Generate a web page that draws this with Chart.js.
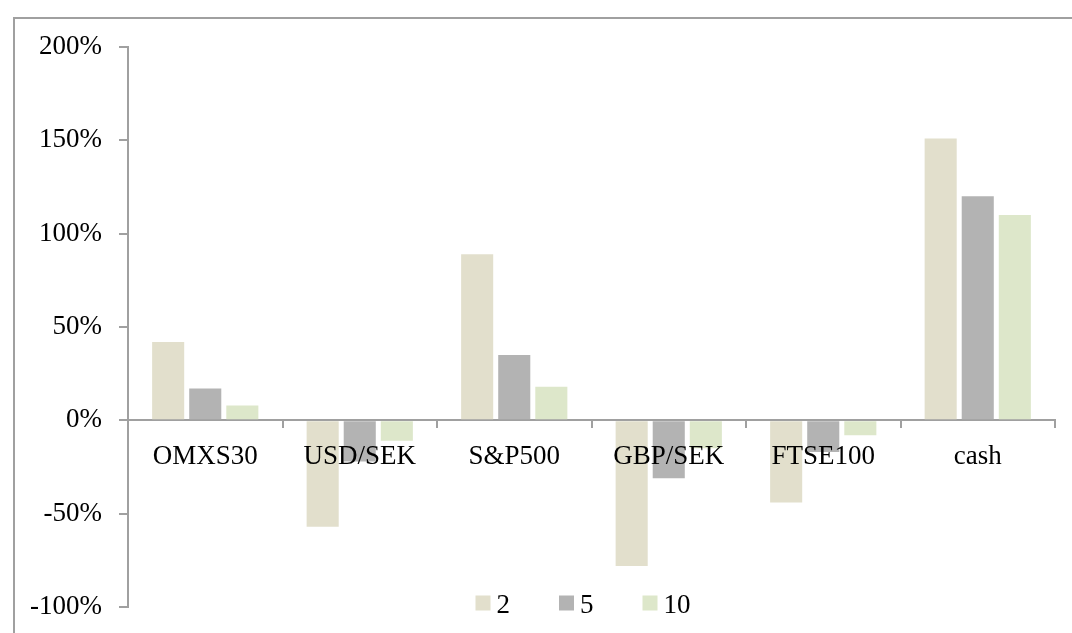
<!DOCTYPE html>
<html>
  <head>
    <title>Bar Chart</title>
    <script src="https://cdn.jsdelivr.net/npm/chart.js@4.4.0/dist/chart.umd.min.js"></script>
    <style>
      body { margin: 0; background: #fff; overflow: hidden; }
      #container { width: 1072px; height: 633px; position: relative; }
    </style>
  </head>
  <body>
    <div id="container"><canvas id="canvas"></canvas></div>
    <script>
      const categories = ['OMXS30', 'USD/SEK', 'S&P500', 'GBP/SEK', 'FTSE100', 'cash'];
      const seriesNames = ['2', '5', '10'];
      const values2 = [42, -57, 89, -78, -44, 151];
      const values5 = [17, -22, 35, -31, -17, 120];
      const values10 = [8, -11, 18, -15, -8, 110];
      const yTicks = [-100, -50, 0, 50, 100, 150, 200];
      const colors = ['#e2dfcc', '#b3b3b3', '#dde7ca'];

      const axisColor = '#a0a0a0';
      Chart.defaults.font.family = '"Liberation Serif", serif';
      Chart.defaults.font.size = 27;
      Chart.defaults.color = '#000';

      // outer frame (only top and left edges show in the picture)
      const framePlugin = {
        id: 'frame',
        beforeDraw(chart) {
          const ctx = chart.ctx;
          ctx.save();
          ctx.strokeStyle = axisColor;
          ctx.lineWidth = 2;
          ctx.beginPath();
          ctx.moveTo(14, chart.height);
          ctx.lineTo(14, 18);
          ctx.lineTo(chart.width, 18);
          ctx.stroke();
          ctx.restore();
        },
      };

      // legend drawn inside the plot, near the bottom
      const legendPlugin = {
        id: 'bottomLegend',
        afterDraw(chart) {
          const ctx = chart.ctx;
          const items = chart.data.datasets;
          const box = 15, gap = 6, pad = 49;
          ctx.save();
          ctx.font = '27px "Liberation Serif", serif';
          const widths = items.map((d) => box + gap + ctx.measureText(d.label).width);
          const total = widths.reduce((a, b) => a + b, 0) + pad * (items.length - 1);
          let x = 583 - total / 2;
          const y = 603;
          items.forEach((d, i) => {
            ctx.fillStyle = d.backgroundColor;
            ctx.fillRect(x, y - 7.5, box, box);
            ctx.fillStyle = '#000';
            ctx.textBaseline = 'alphabetic';
            ctx.fillText(d.label, x + box + gap, 613);
            x += widths[i] + pad;
          });
          ctx.restore();
        },
      };

      const seriesValues = [values2, values5, values10];
      const data = {
        labels: categories,
        datasets: seriesNames.map((name, i) => ({
          label: name,
          data: seriesValues[i],
          backgroundColor: colors[i],
          borderWidth: 0,
          categoryPercentage: 0.72,
          barPercentage: 0.865,
        })),
      };

      window.onload = () => {
        const ctx = document.getElementById('canvas').getContext('2d');
        new Chart(ctx, {
          type: 'bar',
          data: data,
          plugins: [framePlugin, legendPlugin],
          options: {
            responsive: true,
            maintainAspectRatio: false,
            animation: false,
            layout: { padding: { left: 0, right: 17, top: 47, bottom: 26 } },
            plugins: {
              legend: { display: false },
              tooltip: { enabled: false },
            },
            scales: {
              x: {
                position: { y: 0 },
                afterFit: (scale) => {
                  scale.height = 0;
                },
                grid: {
                  drawOnChartArea: false,
                  drawTicks: true,
                  tickLength: 7,
                  color: axisColor,
                  lineWidth: 2,
                },
                border: { color: axisColor, width: 2 },
                ticks: { z: 1, padding: 13, maxRotation: 0, autoSkip: false },
              },
              y: {
                min: yTicks[0],
                max: yTicks[yTicks.length - 1],
                afterBuildTicks: (scale) => {
                  scale.ticks = yTicks.map((v) => ({ value: v }));
                },
                afterFit: (scale) => {
                  scale.width = 128;
                  scale.paddingTop = 0;
                  scale.paddingBottom = 0;
                },
                grid: {
                  drawOnChartArea: false,
                  drawTicks: true,
                  tickLength: 9,
                  color: axisColor,
                  lineWidth: 2,
                },
                border: { color: axisColor, width: 2 },
                ticks: {
                  padding: 17,
                  callback: (v) => v + '%',
                },
              },
            },
          },
        });
      };
    </script>
  </body>
</html>
